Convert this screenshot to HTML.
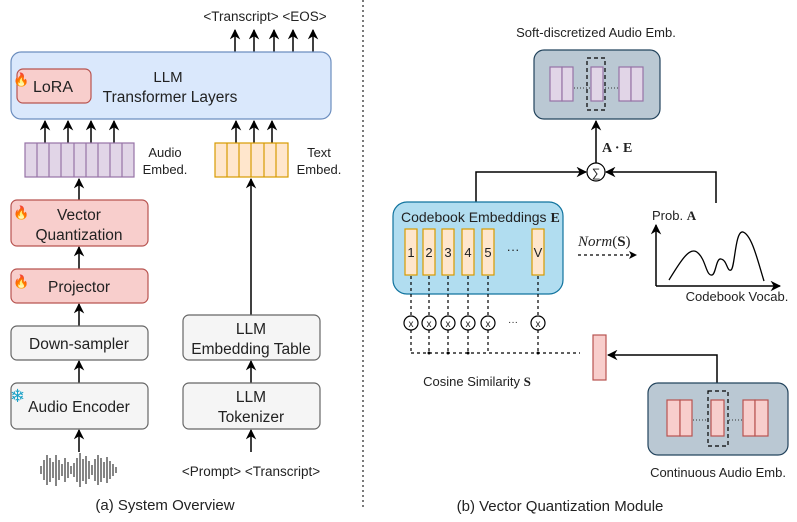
<!DOCTYPE html>
<html><head><meta charset="utf-8"><style>
html,body{margin:0;padding:0;background:#fff}
svg{display:block}
text{font-family:"Liberation Sans",sans-serif;fill:#222}
.m{font-family:"Liberation Serif",serif;font-weight:bold}
</style></head><body>
<svg width="797" height="522" viewBox="0 0 797 522" xmlns="http://www.w3.org/2000/svg">
<defs>
<marker id="a" viewBox="0 0 10 10" refX="9" refY="5" markerWidth="7" markerHeight="7" orient="auto-start-reverse"><path d="M0,0 L10,5 L0,10 L3,5 z" fill="#000"/></marker>
</defs>
<g stroke="#000" stroke-width="1.5" fill="none" marker-end="url(#a)">
<line x1="235" y1="52" x2="235" y2="30"/><line x1="254" y1="52" x2="254" y2="30"/><line x1="274" y1="52" x2="274" y2="30"/><line x1="293" y1="52" x2="293" y2="30"/><line x1="313" y1="52" x2="313" y2="30"/>
<line x1="45" y1="143" x2="45" y2="121"/><line x1="68" y1="143" x2="68" y2="121"/><line x1="91" y1="143" x2="91" y2="121"/><line x1="114" y1="143" x2="114" y2="121"/>
<line x1="236" y1="143" x2="236" y2="121"/><line x1="254" y1="143" x2="254" y2="121"/><line x1="272" y1="143" x2="272" y2="121"/>
<line x1="79" y1="200" x2="79" y2="179"/><line x1="79" y1="269" x2="79" y2="247"/><line x1="79" y1="326" x2="79" y2="304"/><line x1="79" y1="383" x2="79" y2="361"/><line x1="79" y1="452" x2="79" y2="430"/>
<line x1="251" y1="315" x2="251" y2="179"/><line x1="251" y1="383" x2="251" y2="361"/><line x1="251" y1="452" x2="251" y2="430"/>
<line x1="596" y1="163" x2="596" y2="121"/>
<polyline points="476,202 476,172 586,172"/>
<polyline points="716,203 716,172 606,172"/>
<polyline points="717,383 717,355 608,355"/>
<line x1="656" y1="286" x2="656" y2="225"/><line x1="656" y1="286" x2="780" y2="286"/>
</g>
<text x="265" y="21" font-size="13.5" text-anchor="middle">&lt;Transcript&gt; &lt;EOS&gt;</text>
<rect x="11" y="52" width="320" height="67" rx="10" fill="#dae8fc" stroke="#6c8ebf" stroke-width="1.2"/>
<rect x="17" y="69" width="74" height="34" rx="6" fill="#f8cecc" stroke="#b85450" stroke-width="1.2"/>
<text x="33" y="92" font-size="16">LoRA</text>
<text x="168" y="82" font-size="15" text-anchor="middle">LLM</text>
<text x="170" y="102" font-size="15.5" text-anchor="middle">Transformer Layers</text>
<rect x="25" y="143" width="109" height="34" fill="#e1d5e7" stroke="#9673a6" stroke-width="1.2"/>
<g stroke="#9673a6" stroke-width="1.2"><line x1="37" y1="143" x2="37" y2="177"/><line x1="49" y1="143" x2="49" y2="177"/><line x1="61" y1="143" x2="61" y2="177"/><line x1="74" y1="143" x2="74" y2="177"/><line x1="86" y1="143" x2="86" y2="177"/><line x1="98" y1="143" x2="98" y2="177"/><line x1="110" y1="143" x2="110" y2="177"/><line x1="122" y1="143" x2="122" y2="177"/></g>
<text x="165" y="157" font-size="13" text-anchor="middle">Audio</text><text x="165" y="174" font-size="13" text-anchor="middle">Embed.</text>
<rect x="215" y="143" width="73" height="34" fill="#ffe6cc" stroke="#d79b00" stroke-width="1.2"/>
<g stroke="#d79b00" stroke-width="1.2"><line x1="227" y1="143" x2="227" y2="177"/><line x1="239" y1="143" x2="239" y2="177"/><line x1="251" y1="143" x2="251" y2="177"/><line x1="264" y1="143" x2="264" y2="177"/><line x1="276" y1="143" x2="276" y2="177"/></g>
<text x="319" y="157" font-size="13" text-anchor="middle">Text</text><text x="319" y="174" font-size="13" text-anchor="middle">Embed.</text>
<rect x="11" y="200" width="137" height="46" rx="6" fill="#f8cecc" stroke="#b85450" stroke-width="1.2"/>
<text x="79" y="220" font-size="15.5" text-anchor="middle">Vector</text><text x="79" y="240" font-size="15.5" text-anchor="middle">Quantization</text>
<rect x="11" y="269" width="137" height="34" rx="6" fill="#f8cecc" stroke="#b85450" stroke-width="1.2"/>
<text x="79" y="292" font-size="15.5" text-anchor="middle">Projector</text>
<rect x="11" y="326" width="137" height="34" rx="6" fill="#f5f5f5" stroke="#666" stroke-width="1.2"/>
<text x="79" y="349" font-size="15.5" text-anchor="middle">Down-sampler</text>
<rect x="11" y="383" width="137" height="46" rx="6" fill="#f5f5f5" stroke="#666" stroke-width="1.2"/>
<text x="79" y="412" font-size="15.5" text-anchor="middle">Audio Encoder</text>
<rect x="183" y="315" width="137" height="45" rx="6" fill="#f5f5f5" stroke="#666" stroke-width="1.2"/>
<text x="251" y="334" font-size="15.5" text-anchor="middle">LLM</text><text x="251" y="354" font-size="15.5" text-anchor="middle">Embedding Table</text>
<rect x="183" y="383" width="137" height="46" rx="6" fill="#f5f5f5" stroke="#666" stroke-width="1.2"/>
<text x="251" y="402" font-size="15.5" text-anchor="middle">LLM</text><text x="251" y="422" font-size="15.5" text-anchor="middle">Tokenizer</text>
<text x="251" y="476" font-size="13.5" text-anchor="middle">&lt;Prompt&gt; &lt;Transcript&gt;</text>
<g stroke="#333" stroke-width="1.2">
<line x1="41" y1="466" x2="41" y2="474"/><line x1="44" y1="460" x2="44" y2="480"/><line x1="47" y1="455" x2="47" y2="485"/><line x1="50" y1="458" x2="50" y2="482"/><line x1="53" y1="462" x2="53" y2="478"/><line x1="56" y1="455" x2="56" y2="486"/><line x1="59" y1="460" x2="59" y2="480"/><line x1="62" y1="464" x2="62" y2="476"/><line x1="65" y1="458" x2="65" y2="482"/><line x1="68" y1="462" x2="68" y2="478"/><line x1="71" y1="466" x2="71" y2="474"/><line x1="74" y1="463" x2="74" y2="477"/><line x1="77" y1="458" x2="77" y2="482"/><line x1="80" y1="453" x2="80" y2="487"/><line x1="83" y1="459" x2="83" y2="481"/><line x1="86" y1="456" x2="86" y2="484"/><line x1="89" y1="461" x2="89" y2="479"/><line x1="92" y1="465" x2="92" y2="475"/><line x1="95" y1="459" x2="95" y2="481"/><line x1="98" y1="455" x2="98" y2="485"/><line x1="101" y1="458" x2="101" y2="482"/><line x1="104" y1="462" x2="104" y2="478"/><line x1="107" y1="457" x2="107" y2="483"/><line x1="110" y1="461" x2="110" y2="479"/><line x1="113" y1="464" x2="113" y2="476"/><line x1="116" y1="467" x2="116" y2="473"/>
</g>
<text x="165" y="510" font-size="15" text-anchor="middle">(a) System Overview</text>
<g font-size="13"><text x="13" y="84">🔥</text><text x="13" y="217">🔥</text><text x="13" y="286">🔥</text></g>
<text x="10" y="402" font-size="18" style="fill:#1ba1c7">❄</text>
<line x1="363" y1="0" x2="363" y2="508" stroke="#333" stroke-width="1.3" stroke-dasharray="2,3"/>
<text x="596" y="37" font-size="13" text-anchor="middle">Soft-discretized Audio Emb.</text>
<rect x="534" y="50" width="126" height="69" rx="10" fill="#bac8d3" stroke="#23445d" stroke-width="1.2"/>
<g fill="#e1d5e7" stroke="#9673a6" stroke-width="1.2"><rect x="550" y="67" width="12" height="34"/><rect x="562" y="67" width="11" height="34"/><rect x="591" y="67" width="12" height="34"/><rect x="619" y="67" width="12" height="34"/><rect x="631" y="67" width="12" height="34"/></g>
<rect x="587" y="58" width="18" height="52" fill="none" stroke="#000" stroke-width="1.2" stroke-dasharray="4,3"/>
<g stroke="#333" stroke-dasharray="1,2"><line x1="574" y1="88" x2="590" y2="88"/><line x1="605" y1="88" x2="618" y2="88"/></g>
<text x="602" y="152" font-size="14" class="m">A · E</text>
<circle cx="596" cy="172" r="9" fill="#fff" stroke="#000" stroke-width="1.2"/>
<text x="596" y="177" font-size="12" text-anchor="middle">∑</text>
<rect x="393" y="202" width="170" height="92" rx="14" fill="#b1ddf0" stroke="#10739e" stroke-width="1.2"/>
<text x="401" y="222" font-size="14">Codebook Embeddings <tspan class="m">E</tspan></text>
<g fill="#ffe6cc" stroke="#d79b00" stroke-width="1.2"><rect x="405" y="229" width="12" height="46"/><rect x="423" y="229" width="12" height="46"/><rect x="442" y="229" width="12" height="46"/><rect x="462" y="229" width="12" height="46"/><rect x="482" y="229" width="12" height="46"/><rect x="532" y="229" width="12" height="46"/></g>
<g font-size="13" text-anchor="middle"><text x="411" y="257">1</text><text x="429" y="257">2</text><text x="448" y="257">3</text><text x="468" y="257">4</text><text x="488" y="257">5</text><text x="513" y="254">···</text><text x="538" y="257">V</text></g>
<g stroke="#000" stroke-width="1.2" stroke-dasharray="3,3"><line x1="411" y1="276" x2="411" y2="353"/><line x1="429" y1="276" x2="429" y2="353"/><line x1="448" y1="276" x2="448" y2="353"/><line x1="468" y1="276" x2="468" y2="353"/><line x1="488" y1="276" x2="488" y2="353"/><line x1="538" y1="276" x2="538" y2="353"/><line x1="411" y1="353" x2="580" y2="353"/><line x1="578" y1="255" x2="632" y2="255"/></g>
<path d="M637,255 l-8,-4 l2,4 l-2,4z" fill="#000"/>
<g fill="#000"><circle cx="429" cy="353" r="1.5"/><circle cx="448" cy="353" r="1.5"/><circle cx="468" cy="353" r="1.5"/><circle cx="538" cy="353" r="1.5"/></g>
<g fill="#fff" stroke="#000" stroke-width="1.2"><circle cx="411" cy="323" r="7"/><circle cx="429" cy="323" r="7"/><circle cx="448" cy="323" r="7"/><circle cx="468" cy="323" r="7"/><circle cx="488" cy="323" r="7"/><circle cx="538" cy="323" r="7"/></g>
<g font-size="10" text-anchor="middle"><text x="411" y="327">x</text><text x="429" y="327">x</text><text x="448" y="327">x</text><text x="468" y="327">x</text><text x="488" y="327">x</text><text x="513" y="325">···</text><text x="538" y="327">x</text></g>
<text x="578" y="246" font-size="15" style="font-family:'Liberation Serif',serif;font-style:italic">Norm<tspan style="font-style:normal">(</tspan><tspan class="m" style="font-style:normal">S</tspan><tspan style="font-style:normal">)</tspan></text>
<text x="652" y="220" font-size="13">Prob. <tspan class="m">A</tspan></text>
<text x="737" y="301" font-size="13" text-anchor="middle">Codebook Vocab.</text>
<path d="M669,280 C680,262 690,245 698,253 C706,260 706,276 712,275 C716,274 716,258 721,259 C727,260 727,272 731,270 C735,268 735,230 743,232 C752,235 758,262 764,281" fill="none" stroke="#000" stroke-width="1.3"/>
<rect x="593" y="335" width="13" height="45" fill="#f8cecc" stroke="#b85450" stroke-width="1.2"/>
<text x="477" y="386" font-size="13" text-anchor="middle">Cosine Similarity <tspan class="m">S</tspan></text>
<rect x="648" y="383" width="140" height="72" rx="10" fill="#bac8d3" stroke="#23445d" stroke-width="1.2"/>
<g fill="#f8cecc" stroke="#b85450" stroke-width="1.2"><rect x="667" y="400" width="13" height="36"/><rect x="680" y="400" width="12" height="36"/><rect x="711" y="400" width="13" height="36"/><rect x="743" y="400" width="12" height="36"/><rect x="755" y="400" width="13" height="36"/></g>
<rect x="708" y="391" width="20" height="55" fill="none" stroke="#000" stroke-width="1.2" stroke-dasharray="4,3"/>
<g stroke="#333" stroke-dasharray="1,2"><line x1="693" y1="420" x2="707" y2="420"/><line x1="729" y1="420" x2="742" y2="420"/></g>
<text x="718" y="477" font-size="13" text-anchor="middle">Continuous Audio Emb.</text>
<text x="560" y="511" font-size="15" text-anchor="middle">(b) Vector Quantization Module</text>
</svg>
</body></html>
